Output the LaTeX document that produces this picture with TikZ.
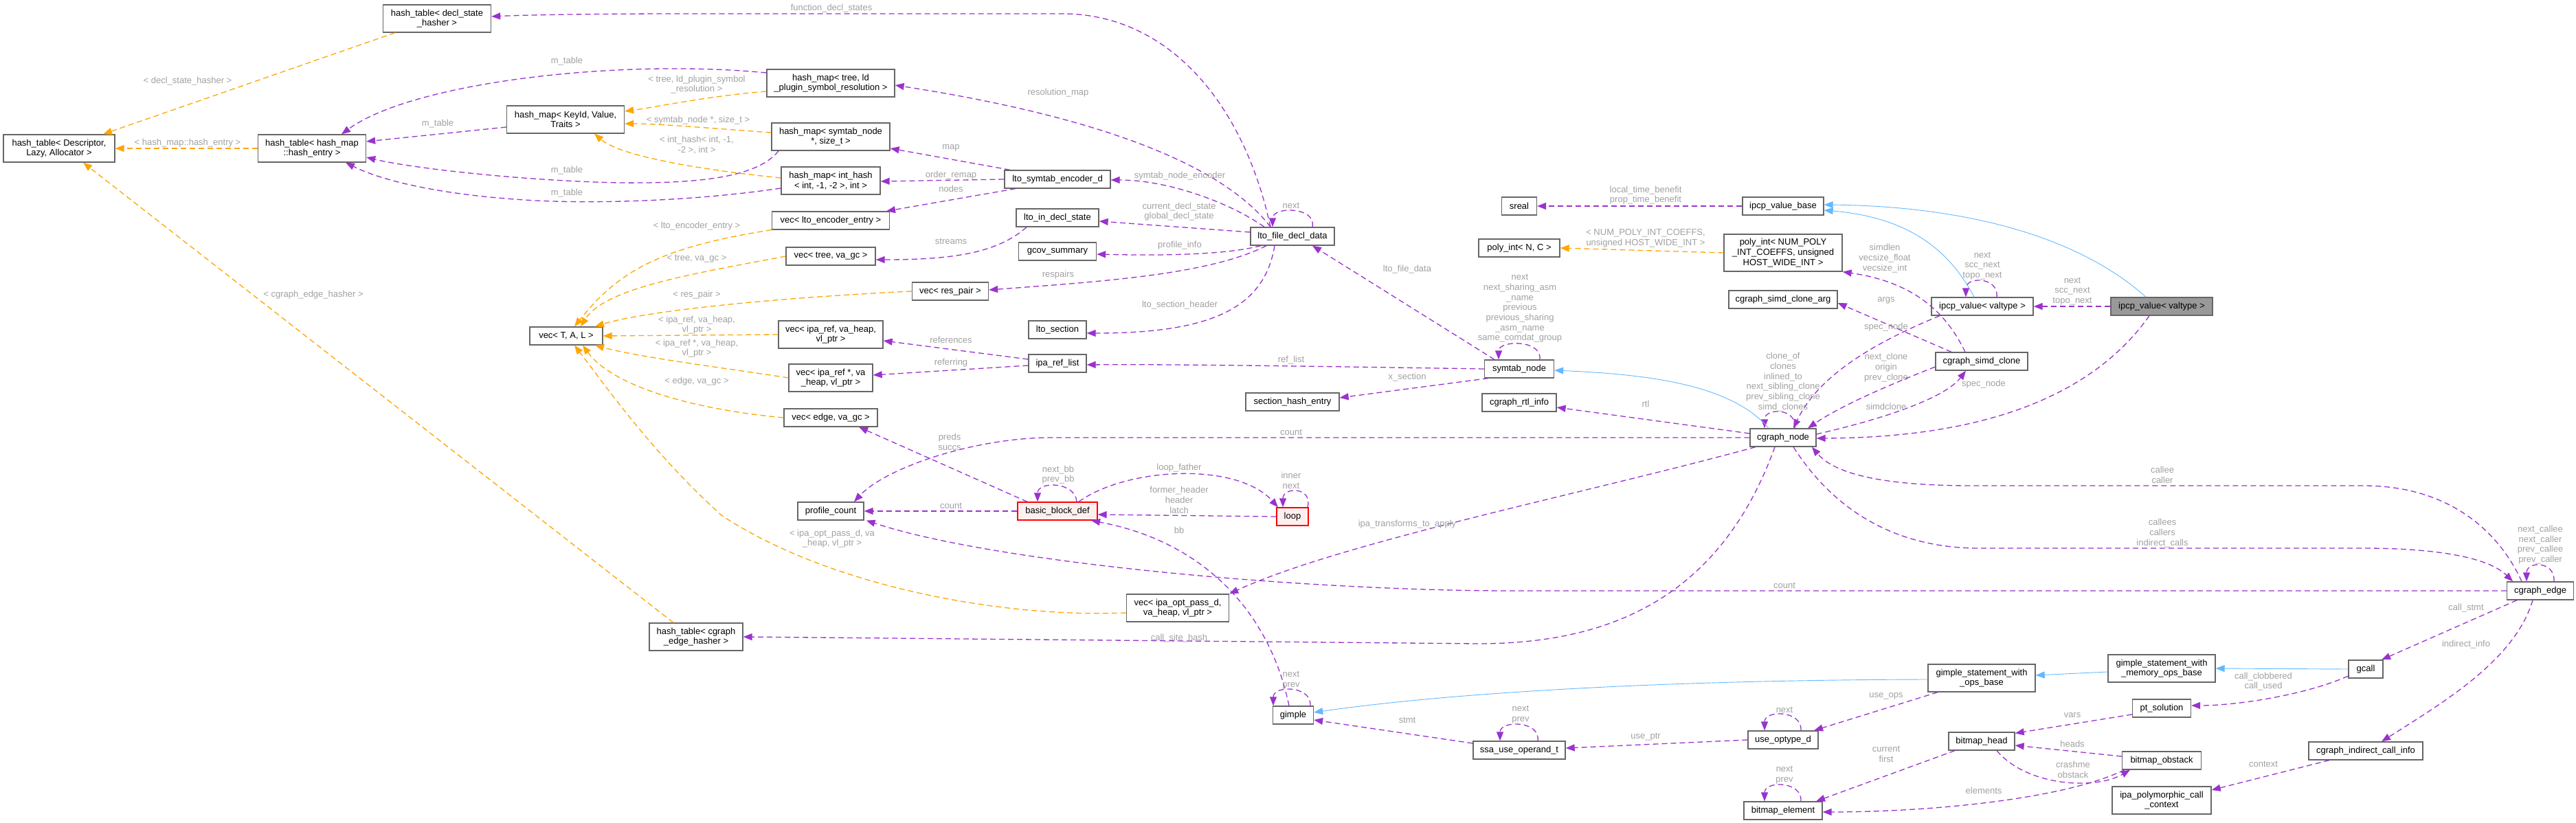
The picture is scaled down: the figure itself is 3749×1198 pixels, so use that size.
\documentclass[tikz,border=0pt]{standalone}
\usepackage{fontspec}
\setmainfont{Liberation Sans}
\usetikzlibrary{arrows.meta}
\definecolor{purp}{HTML}{9A32CD}
\definecolor{orng}{HTML}{FFA500}
\definecolor{blu}{HTML}{63B8FF}
\definecolor{bord}{HTML}{666666}
\definecolor{lblc}{HTML}{A0A0A0}
\definecolor{redfill}{HTML}{FFF0F0}
\definecolor{grayfill}{HTML}{999999}
\newcommand\fs{\fontsize{13pt}{14.7pt}\selectfont}
\begin{document}
\begin{tikzpicture}[x=1pt,y=-1pt,
 cls/.style={draw=bord, fill=white, line width=1.3pt, font=\fs, align=center, inner xsep=3pt, inner ysep=1pt, minimum height=26pt},
 twol/.style={minimum height=40pt},
 threel/.style={minimum height=54pt},
 redn/.style={draw=red, fill=redfill},
 grayn/.style={fill=grayfill},
 lbl/.style={font=\fs, text=lblc, align=center, inner sep=0pt},
 uedge/.style={draw=purp, line width=1.3pt, dash pattern=on 8pt off 5pt, -{Triangle[length=13pt,width=10pt]}},
 tedge/.style={uedge, draw=orng},
 iedge/.style={draw=blu, line width=0.9pt, -{Triangle[length=13pt,width=10pt]}},
]
\useasboundingbox (0,0) rectangle (3749,1198);

% ---------------- nodes ----------------
\node[cls,twol,minimum width=162pt] (desc) at (86,216) {hash\_table< Descriptor,\\Lazy, Allocator >};
\node[cls,twol,minimum width=157pt] (dsh) at (636,27) {hash\_table< decl\_state\\\_hasher >};
\node[cls,twol,minimum width=157pt] (hhe) at (454,216) {hash\_table< hash\_map\\::hash\_entry >};
\node[cls,twol,minimum width=171pt] (kvt) at (823,174) {hash\_map< KeyId, Value,\\Traits >};
\node[cls,minimum width=106pt] (vtal) at (824,489) {vec< T, A, L >};
\node[cls,twol,minimum width=186pt] (hmt) at (1209,121) {hash\_map< tree, ld\\\_plugin\_symbol\_resolution >};
\node[cls,twol,minimum width=172pt] (hms) at (1209,199) {hash\_map< symtab\_node\\*, size\_t >};
\node[cls,twol,minimum width=144pt] (hmi) at (1209,263) {hash\_map< int\_hash\\< int, -1, -2 >, int >};
\node[cls,minimum width=171pt] (vle) at (1209,321) {vec< lto\_encoder\_entry >};
\node[cls,minimum width=130pt] (vtv) at (1209,373) {vec< tree, va\_gc >};
\node[cls,minimum width=111pt] (vrp) at (1383,424) {vec< res\_pair >};
\node[cls,twol,minimum width=152pt] (vir) at (1209,487) {vec< ipa\_ref, va\_heap,\\vl\_ptr >};
\node[cls,twol,minimum width=122pt] (virp) at (1209,550) {vec< ipa\_ref *, va\\\_heap, vl\_ptr >};
\node[cls,minimum width=136pt] (ved) at (1209,608) {vec< edge, va\_gc >};
\node[cls,minimum width=96pt] (pc) at (1209,744) {profile\_count};
\node[cls,twol,minimum width=136pt] (hce) at (1013,927) {hash\_table< cgraph\\\_edge\_hasher >};
\node[cls,twol,minimum width=149pt] (vip) at (1714,885) {vec< ipa\_opt\_pass\_d,\\va\_heap, vl\_ptr >};
\node[cls,minimum width=154pt] (lse) at (1539,261) {lto\_symtab\_encoder\_d};
\node[cls,minimum width=120pt] (lid) at (1539,317) {lto\_in\_decl\_state};
\node[cls,minimum width=113pt] (gcs) at (1539,366) {gcov\_summary};
\node[cls,minimum width=84pt] (lsec) at (1539,480) {lto\_section};
\node[cls,minimum width=84pt] (irl) at (1539,529) {ipa\_ref\_list};
\node[cls,redn,minimum width=116pt] (bbd) at (1539,744) {basic\_block\_def};
\node[cls,minimum width=122pt] (lfd) at (1881,344) {lto\_file\_decl\_data};
\node[cls,minimum width=136pt] (she) at (1881,585) {section\_hash\_entry};
\node[cls,redn,minimum width=46pt] (loop) at (1881,752) {loop};
\node[cls,minimum width=59pt] (gim) at (1882,1041) {gimple};
\node[cls,minimum width=101pt] (sym) at (2211,537) {symtab\_node};
\node[cls,minimum width=108pt] (rtl) at (2211,586) {cgraph\_rtl\_info};
\node[cls,minimum width=51pt] (sreal) at (2211,300) {sreal};
\node[cls,minimum width=118pt] (pnc) at (2211,361) {poly\_int< N, C >};
\node[cls,minimum width=134pt] (ssa) at (2211,1092) {ssa\_use\_operand\_t};
\node[cls,minimum width=118pt] (ivb) at (2595,300) {ipcp\_value\_base};
\node[cls,threel,minimum width=172pt] (pin) at (2595,368) {poly\_int< NUM\_POLY\\\_INT\_COEFFS, unsigned\\HOST\_WIDE\_INT >};
\node[cls,minimum width=158pt] (sca) at (2595,436) {cgraph\_simd\_clone\_arg};
\node[cls,minimum width=96pt] (cn) at (2595,637) {cgraph\_node};
\node[cls,minimum width=102pt] (uod) at (2595,1077) {use\_optype\_d};
\node[cls,minimum width=114pt] (bel) at (2595,1180) {bitmap\_element};
\node[cls,minimum width=148pt] (ivw) at (2885,446) {ipcp\_value< valtype >};
\node[cls,minimum width=134pt] (scl) at (2884,526) {cgraph\_simd\_clone};
\node[cls,twol,minimum width=156pt] (gso) at (2884,987) {gimple\_statement\_with\\\_ops\_base};
\node[cls,minimum width=96pt] (bh) at (2884,1079) {bitmap\_head};
\node[cls,grayn,minimum width=148pt] (ivg) at (3146,446) {ipcp\_value< valtype >};
\node[cls,twol,minimum width=156pt] (gsm) at (3146,973) {gimple\_statement\_with\\\_memory\_ops\_base};
\node[cls,minimum width=85pt] (pts) at (3146,1031) {pt\_solution};
\node[cls,minimum width=115pt] (bob) at (3146,1107) {bitmap\_obstack};
\node[cls,twol,minimum width=144pt] (ipc) at (3146,1165) {ipa\_polymorphic\_call\\\_context};
\node[cls,minimum width=50pt] (gcall) at (3443,974) {gcall};
\node[cls,minimum width=166pt] (cic) at (3443,1093) {cgraph\_indirect\_call\_info};
\node[cls,minimum width=97pt] (ce) at (3697,860) {cgraph\_edge};

% ---------------- template (orange) edges ----------------
\draw[tedge] ([xshift=-61pt]dsh.south) -- ([xshift=64pt]desc.north);
\draw[tedge] (hhe.west) -- (desc.east);
\draw[tedge] ([xshift=-33pt]hce.north) -- ([xshift=35pt]desc.south);
\draw[tedge] ([yshift=-12pt]hmt.west) .. controls (1030,140) and (960,155) .. ([yshift=12pt]kvt.east);
\draw[tedge] ([yshift=6pt]hms.west) .. controls (1050,188) and (960,180) .. ([yshift=-6pt]kvt.east);
\draw[tedge] ([yshift=4pt]hmi.west) .. controls (1000,245) and (900,225) .. ([xshift=42pt]kvt.south);
\draw[tedge] (vle.south west) .. controls (960,360) and (900,395) .. ([xshift=12pt]vtal.north);
\draw[tedge] (vtv.west) .. controls (1000,400) and (880,420) .. ([xshift=21pt]vtal.north);
\draw[tedge] (vrp.west) .. controls (1100,435) and (930,455) .. ([xshift=42pt]vtal.north);
\draw[tedge] (vir.west) -- (vtal.east);
\draw[tedge] (virp.west) .. controls (1050,535) and (930,520) .. ([xshift=42pt]vtal.south);
\draw[tedge] (ved.west) .. controls (1000,595) and (890,560) .. ([xshift=24pt]vtal.south);
\draw[tedge] ([yshift=-7pt]vip.west) .. controls (1450,900) and (1200,850) .. (1050,750) .. controls (950,660) and (880,560) .. ([xshift=12pt]vtal.south);
\draw[tedge] (pin.west) -- (pnc.east);

% ---------------- usage (purple) edges ----------------
\draw[uedge] ([yshift=15pt]hmt.west) .. controls (900,85) and (600,120) .. ([xshift=43pt]hhe.north);
\draw[uedge] ([yshift=-11pt]kvt.west) -- ([yshift=10pt]hhe.east);
\draw[uedge] ([xshift=-76pt]hms.south) .. controls (1100,262) and (1000,267) .. (900,266) .. controls (760,263) and (600,245) .. ([yshift=-13pt]hhe.east);
\draw[uedge] ([yshift=-11pt]hmi.west) .. controls (1000,294) and (860,296) .. (780,292) .. controls (650,285) and (560,265) .. ([xshift=49pt]hhe.south);

\draw[uedge] ([xshift=-32pt]lfd.north) .. controls (1810,150) and (1700,20) .. (1546,20) -- (1000,20) .. controls (850,20) and (760,22) .. ([yshift=3pt]dsh.east);
\draw[uedge] ([xshift=-32pt]lfd.north) .. controls (1780,240) and (1600,170) .. ([yshift=-3pt]hmt.east);
\draw[uedge] ([xshift=-69pt]lse.north) -- ([yshift=-17pt]hms.east);
\draw[uedge] (lse.west) -- ([yshift=-1pt]hmi.east);
\draw[uedge] ([xshift=-61pt]lse.south) -- ([xshift=81pt]vle.north);
\draw[uedge] ([xshift=-41pt]lfd.north) .. controls (1790,295) and (1700,262) .. ([yshift=-1pt]lse.east);
\draw[uedge] ([yshift=6pt]lfd.west) -- ([yshift=-5pt]lid.east);
\draw[uedge] ([xshift=-45pt]lid.south) .. controls (1450,370) and (1380,378) .. ([yshift=-5pt]vtv.east);
\draw[uedge] ([xshift=-46pt]lfd.south) .. controls (1780,372) and (1680,372) .. ([yshift=-4pt]gcs.east);
\draw[uedge] ([xshift=-38pt]lfd.south) .. controls (1760,400) and (1600,410) .. ([yshift=2pt]vrp.east);
\draw[uedge] ([xshift=-26pt]lfd.south) .. controls (1840,450) and (1760,485) .. ([yshift=-5pt]lsec.east);
\draw[uedge] ([xshift=29pt]lfd.north) .. controls +(6,-30) and +(0,-30) .. ([xshift=-29pt]lfd.north);
\draw[uedge] ([xshift=-36pt]sym.north) -- ([xshift=29pt]lfd.south);
\draw[uedge] ([yshift=6pt]irl.west) -- ([yshift=-9pt]vir.east);
\draw[uedge] ([yshift=-3pt]irl.west) -- ([yshift=4pt]virp.east);
\draw[uedge] (sym.west) .. controls (1900,533) and (1700,530) .. ([yshift=-2pt]irl.east);
\draw[uedge] ([xshift=-45pt]sym.south) -- ([yshift=6pt]she.east);
\draw[uedge] ([xshift=30pt]sym.north) .. controls +(3,-30) and +(0,-28) .. ([xshift=-30pt]sym.north);
\draw[uedge] ([yshift=6pt]cn.west) -- ([yshift=-7pt]rtl.east);
\draw[uedge] (cn.west) -- (1530,637) .. controls (1420,637) and (1290,680) .. ([xshift=34pt]pc.north);
\draw[uedge] (bbd.west) -- (pc.east);
\draw[uedge] (ce.west) -- (2200,860) .. controls (1900,860) and (1450,820) .. ([xshift=3pt]pc.south east);
\draw[uedge] ([xshift=-44pt]bbd.north) -- ([xshift=41pt]ved.south);
\draw[uedge] ([xshift=28pt]bbd.north) .. controls +(-2,-30) and +(0,-30) .. ([xshift=-29pt]bbd.north);
\draw[uedge] ([xshift=31pt]bbd.north) .. controls (1640,680) and (1800,672) .. ([xshift=-21pt]loop.north);
\draw[uedge] (loop.west) -- ([yshift=-5pt]bbd.east);
\draw[uedge] ([xshift=22pt]loop.north) .. controls +(8,-30) and +(0,-30) .. ([xshift=-14pt]loop.north);
\draw[uedge] ([xshift=-6pt]gim.north) .. controls (1850,900) and (1760,790) .. ([xshift=49pt]bbd.south);
\draw[uedge] ([xshift=25pt]gim.north) .. controls +(2,-30) and +(0,-30) .. ([xshift=-29pt]gim.north);
\draw[uedge] ([xshift=-40pt]cn.south) .. controls (2300,720) and (1950,790) .. (vip.north east);
\draw[uedge] ([xshift=-12pt]cn.south) .. controls (2500,880) and (2330,937) .. (2150,937) -- (hce.east);
\draw[uedge] ([xshift=17pt]cn.north) .. controls +(4,-30) and +(0,-30) .. ([xshift=-27pt]cn.north);
\draw[uedge] ([xshift=-44pt]scl.north) -- ([yshift=-5pt]sca.east);
\draw[uedge] ([xshift=-24pt]scl.north) .. controls (2830,450) and (2780,410) .. (pin.south east);
\draw[uedge] ([yshift=-8pt]scl.west) .. controls (2750,560) and (2680,590) .. ([xshift=36pt]cn.north);
\draw[uedge] ([yshift=5pt]cn.east) .. controls (2740,610) and (2830,580) .. ([xshift=-23pt]scl.south);
\draw[uedge] ([xshift=-62pt]ivw.south) .. controls (2700,510) and (2640,560) .. ([xshift=15pt]cn.north);
\draw[uedge] ([xshift=-18pt]ivg.south) .. controls (3050,570) and (2900,637) .. ([yshift=-1pt]cn.east);
\draw[uedge] (ivb.west) -- (sreal.east);
\draw[uedge] ([xshift=21pt]ivw.north) .. controls +(3,-30) and +(0,-30) .. ([xshift=-24pt]ivw.north);
\draw[uedge] (ivg.west) -- (ivw.east);
\draw[uedge] ([xshift=-27pt]ce.north) .. controls (3630,760) and (3550,707) .. (3440,707) -- (2870,707) .. controls (2740,707) and (2670,690) .. ([xshift=42pt]cn.south);
\draw[uedge] ([xshift=15pt]cn.south) .. controls (2680,760) and (2780,798) .. (2880,798) -- (3440,798) .. controls (3540,798) and (3620,810) .. ([xshift=-40pt]ce.north);
\draw[uedge] ([xshift=20pt]ce.north) .. controls +(2,-30) and +(0,-30) .. ([xshift=-20pt]ce.north);
\draw[uedge] ([xshift=-34pt]ce.south) -- ([xshift=23pt]gcall.north);
\draw[uedge] ([xshift=-11pt]ce.south) .. controls (3660,960) and (3560,1020) .. ([xshift=23pt]cic.north);
\draw[uedge] ([yshift=-10pt]gcall.west) .. controls (3360,1010) and (3260,1027) .. ([yshift=4pt]pts.east);
\draw[uedge] ([yshift=-9pt]pts.west) -- ([yshift=-2pt]bh.north east);
\draw[uedge] ([yshift=6pt]bob.west) -- ([yshift=-6pt]bh.east);
\draw[uedge] ([xshift=22pt]bh.south) .. controls (2950,1145) and (3050,1150) .. ([xshift=-46pt]bob.south);
\draw[uedge] ([xshift=-39pt]bh.south) -- ([xshift=48pt]bel.north);
\draw[uedge] ([xshift=-54pt]bob.south) .. controls (3000,1165) and (2800,1182) .. ([yshift=-2pt]bel.east);
\draw[uedge] ([xshift=26pt]bel.north) .. controls +(2,-30) and +(0,-30) .. ([xshift=-27pt]bel.north);
\draw[uedge] ([xshift=-53pt]cic.south) -- ([yshift=15pt]ipc.east);
\draw[uedge] ([xshift=-64pt]gso.south) -- ([xshift=45pt]uod.north);
\draw[uedge] ([xshift=26pt]uod.north) .. controls +(2,-30) and +(0,-30) .. ([xshift=-27pt]uod.north);
\draw[uedge] (uod.west) -- ([yshift=3pt]ssa.east);
\draw[uedge] ([xshift=27pt]ssa.north) .. controls +(4,-30) and +(0,-30) .. ([xshift=-28pt]ssa.north);
\draw[uedge] ([yshift=10pt]ssa.west) -- ([yshift=-7pt]gim.east);

% ---------------- inheritance (blue) edges ----------------
\draw[iedge] ([xshift=-21pt]cn.north) .. controls (2520,560) and (2400,545) .. ([yshift=-2pt]sym.east);
\draw[iedge] ([xshift=-12pt]ivw.north) .. controls (2830,350) and (2760,315) .. ([yshift=-6pt]ivb.east);
\draw[iedge] ([xshift=-23pt]ivg.north) .. controls (3020,340) and (2850,300) .. ([yshift=2pt]ivb.east);
\draw[iedge] (gcall.west) -- (gsm.east);
\draw[iedge] ([yshift=-5pt]gsm.west) -- ([yshift=4pt]gso.east);
\draw[iedge] ([yshift=-2pt]gso.west) .. controls (2400,990) and (2100,1010) .. ([yshift=4pt]gim.east);

% ---------------- labels ----------------
\node[lbl] (l1) at (273,118) {< decl\_state\_hasher >};
\node[lbl] (l2) at (825,89) {m\_table};
\node[lbl] (l3) at (637,180) {m\_table};
\node[lbl] (l4) at (273,208) {< hash\_map::hash\_entry >};
\node[lbl] (l5) at (825,248) {m\_table};
\node[lbl] (l6) at (825,281) {m\_table};
\node[lbl] (l7) at (1210,12) {function\_decl\_states};
\node[lbl] (l8) at (1014,123) {< tree, ld\_plugin\_symbol\\\_resolution >};
\node[lbl] (l9) at (1540,135) {resolution\_map};
\node[lbl] (l10) at (1016,175) {< symtab\_node *, size\_t >};
\node[lbl] (l11) at (1014,211) {< int\_hash< int, -1,\\-2 >, int >};
\node[lbl] (l12) at (1384,215) {map};
\node[lbl] (l13) at (1384,255) {order\_remap};
\node[lbl] (l14) at (1384,275) {nodes};
\node[lbl] (l15) at (1717,256) {symtab\_node\_encoder};
\node[lbl] (l16) at (1014,329) {< lto\_encoder\_entry >};
\node[lbl] (l17) at (1716,308) {current\_decl\_state\\global\_decl\_state};
\node[lbl] (l18) at (1879,299) {next};
\node[lbl] (l19) at (1717,357) {profile\_info};
\node[lbl] (l20) at (1014,377) {< tree, va\_gc >};
\node[lbl] (l21) at (1384,351) {streams};
\node[lbl] (l22) at (1540,400) {respairs};
\node[lbl] (l23) at (2395,284) {local\_time\_benefit\\prop\_time\_benefit};
\node[lbl] (l24) at (2395,347) {< NUM\_POLY\_INT\_COEFFS,\\unsigned HOST\_WIDE\_INT >};
\node[lbl] (l25) at (2743,376) {simdlen\\vecsize\_float\\vecsize\_int};
\node[lbl] (l26) at (2048,392) {lto\_file\_data};
\node[lbl] (l27) at (2885,387) {next\\scc\_next\\topo\_next};
\node[lbl] (l28) at (3016,424) {next\\scc\_next\\topo\_next};
\node[lbl] (l29) at (2212,449) {next\\next\_sharing\_asm\\\_name\\previous\\previous\_sharing\\\_asm\_name\\same\_comdat\_group};
\node[lbl] (l30) at (456,429) {< cgraph\_edge\_hasher >};
\node[lbl] (l31) at (1014,429) {< res\_pair >};
\node[lbl] (l32) at (1717,444) {lto\_section\_header};
\node[lbl] (l33) at (1014,473) {< ipa\_ref, va\_heap,\\vl\_ptr >};
\node[lbl] (l34) at (1384,495) {references};
\node[lbl] (l35) at (1384,528) {referring};
\node[lbl] (l36) at (1879,524) {ref\_list};
\node[lbl] (l37) at (1014,507) {< ipa\_ref *, va\_heap,\\vl\_ptr >};
\node[lbl] (l38) at (1014,555) {< edge, va\_gc >};
\node[lbl] (l39) at (1382,643) {preds\\succs};
\node[lbl] (l40) at (1879,629) {count};
\node[lbl] (l41) at (1540,691) {next\_bb\\prev\_bb};
\node[lbl] (l42) at (1716,681) {loop\_father};
\node[lbl] (l43) at (1879,699) {inner\\next};
\node[lbl] (l44) at (1716,728) {former\_header\\header\\latch};
\node[lbl] (l45) at (1384,736) {count};
\node[lbl] (l46) at (1716,772) {bb};
\node[lbl] (l47) at (2048,549) {x\_section};
\node[lbl] (l48) at (2395,588) {rtl};
\node[lbl] (l49) at (2745,437) {args};
\node[lbl] (l50) at (2745,476) {spec\_node};
\node[lbl] (l51) at (2595,556) {clone\_of\\clones\\inlined\_to\\next\_sibling\_clone\\prev\_sibling\_clone\\simd\_clones};
\node[lbl] (l52) at (2745,535) {next\_clone\\origin\\prev\_clone};
\node[lbl] (l53) at (2745,592) {simdclone};
\node[lbl] (l54) at (2048,763) {ipa\_transforms\_to\_apply};
\node[lbl] (l55) at (2887,559) {spec\_node};
\node[lbl] (l56) at (3147,691) {callee\\caller};
\node[lbl] (l57) at (3147,776) {callees\\callers\\indirect\_calls};
\node[lbl] (l58) at (3697,793) {next\_callee\\next\_caller\\prev\_callee\\prev\_caller};
\node[lbl] (l59) at (2597,852) {count};
\node[lbl] (l60) at (3589,885) {call\_stmt};
\node[lbl] (l61) at (3589,938) {indirect\_info};
\node[lbl] (l62) at (1716,929) {call\_site\_hash};
\node[lbl] (l63) at (1211,784) {< ipa\_opt\_pass\_d, va\\\_heap, vl\_ptr >};
\node[lbl] (l64) at (3294,992) {call\_clobbered\\call\_used};
\node[lbl] (l65) at (3016,1041) {vars};
\node[lbl] (l66) at (3016,1083) {heads};
\node[lbl] (l67) at (3017,1120) {crashme\\obstack};
\node[lbl] (l68) at (2887,1151) {elements};
\node[lbl] (l69) at (3294,1112) {context};
\node[lbl] (l70) at (1879,990) {next\\prev};
\node[lbl] (l71) at (2048,1048) {stmt};
\node[lbl] (l72) at (2213,1040) {next\\prev};
\node[lbl] (l73) at (2395,1073) {use\_ptr};
\node[lbl] (l74) at (2597,1033) {next};
\node[lbl] (l75) at (2745,1013) {use\_ops};
\node[lbl] (l76) at (2745,1098) {current\\first};
\node[lbl] (l77) at (2597,1128) {next\\prev};
\end{tikzpicture}
\end{document}
